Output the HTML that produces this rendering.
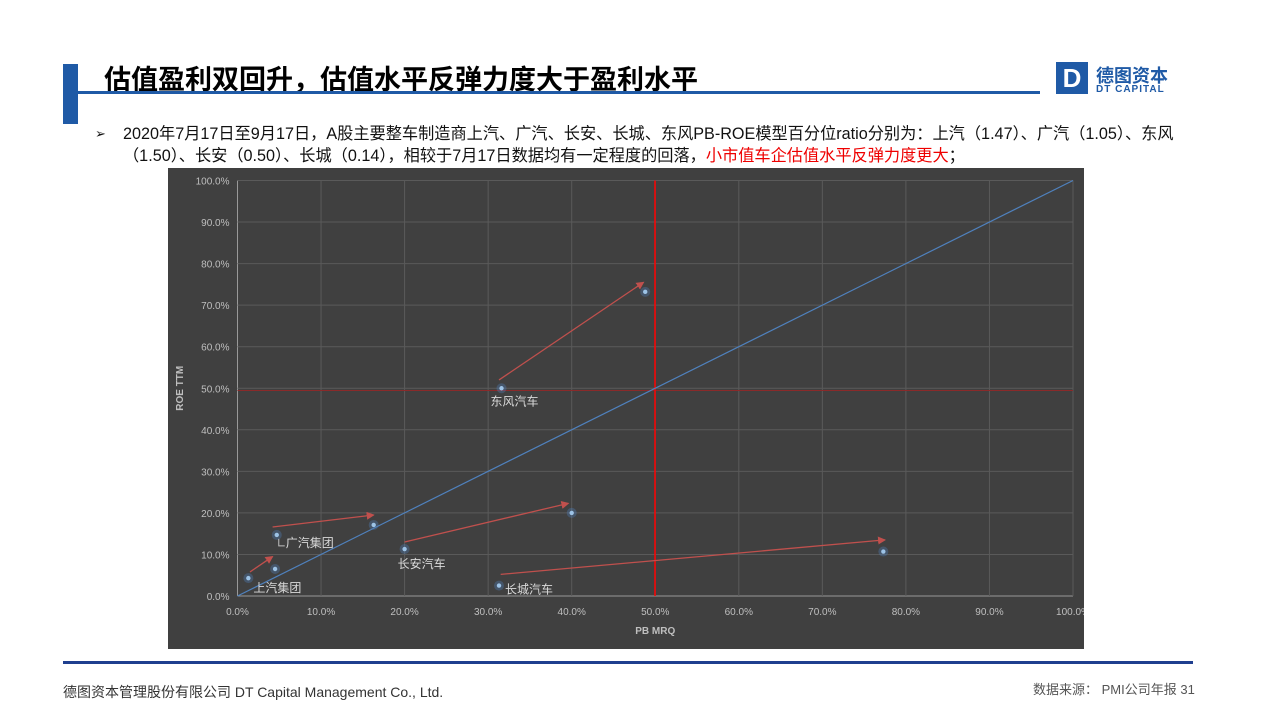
<!DOCTYPE html>
<html><head><meta charset="utf-8"><style>
body{margin:0;width:1280px;height:720px;background:#fff;position:relative;overflow:hidden;font-family:"Liberation Sans","Noto Sans CJK SC",sans-serif}
.abs{position:absolute}
</style></head><body>
<div class="abs" style="left:63px;top:64px;width:15px;height:60px;background:#1f5aa6"></div>
<div class="abs" style="left:104px;top:58px;font-size:27px;font-weight:bold;color:#000">估值盈利双回升，估值水平反弹力度大于盈利水平</div>
<div class="abs" style="left:78px;top:91px;width:962px;height:3px;background:#1f5aa6"></div>
<div class="abs" style="left:1056px;top:62px;width:32px;height:32px;background:#1f5aa6;color:#fff;font-weight:bold;font-size:26px;text-align:center;line-height:32px">D</div>
<div class="abs" style="left:1096px;top:62px;font-size:18px;font-weight:bold;color:#1f5aa6">德图资本</div>
<div class="abs" style="left:1096px;top:84px;font-size:10px;font-weight:bold;color:#1f5aa6;letter-spacing:1px">DT CAPITAL</div>
<div class="abs" style="left:95px;top:123px;width:1120px;font-size:16.2px;line-height:22px;color:#111">
<span style="position:absolute;left:0;top:0;font-size:13px">➢</span>
<div style="padding-left:28px">2020年7月17日至9月17日，A股主要整车制造商上汽、广汽、长安、长城、东风PB-ROE模型百分位ratio分别为：上汽（1.47）、广汽（1.05）、东风<br>（1.50）、长安（0.50）、长城（0.14），相较于7月17日数据均有一定程度的回落，<span style="color:#e00">小市值车企估值水平反弹力度更大</span>；</div></div>
<svg class="abs" style="left:168px;top:168px" width="916" height="481" id="chart"></svg>
<div class="abs" style="left:63px;top:661px;width:1130px;height:3px;background:#1f3f8f"></div>
<div class="abs" style="left:63px;top:682px;font-size:14px;color:#333">德图资本管理股份有限公司 DT Capital Management Co., Ltd.</div>
<div class="abs" style="left:1033px;top:679px;font-size:13px;color:#555">数据来源： PMI公司年报 31</div>
<script>
const names=["上汽集团","广汽集团","长安汽车","长城汽车","东风汽车"];
const pbStart=[1.3,4.7,20.0,31.3,31.6];
const roeStart=[4.3,14.7,11.3,2.5,50.0];
const pbEnd=[4.5,16.3,40.0,77.3,48.8];
const roeEnd=[6.5,17.1,20.0,10.7,73.2];
const arrowX0=[1.5,4.2,20.0,31.5,31.3];
const arrowY0=[5.8,16.6,13.0,5.2,52.0];
const arrowX1=[4.2,16.3,39.6,77.5,48.6];
const arrowY1=[9.5,19.5,22.3,13.5,75.5];
const ticks=[0,10,20,30,40,50,60,70,80,90,100];
const svg=document.getElementById('chart');
const NS='http://www.w3.org/2000/svg';
const ox=168,oy=168;
const X=v=>237.5-ox+v*8.355, Y=v=>596-oy-v*4.155;
function mk(t,a,p){const e=document.createElementNS(NS,t);for(const k in a)e.setAttribute(k,a[k]);(p||svg).appendChild(e);return e;}
let bg=mk('rect',{x:0,y:0,width:916,height:481,fill:'#404040'});


let defs=mk('defs',{});
let mkr=mk('marker',{id:'ah',markerWidth:8,markerHeight:8,refX:7,refY:4,orient:'auto',markerUnits:'userSpaceOnUse'},defs);
mk('path',{d:'M0,0 L8,4 L0,8 z',fill:'#c0504d'},mkr);
ticks.forEach(t=>{
 let g=mk('line',{x1:X(0),x2:X(100),y1:Y(t),y2:Y(t),stroke:t==0?'#999':'#5a5a5a','stroke-width':1});
 
 
 let v=mk('line',{x1:X(t),x2:X(t),y1:Y(0),y2:Y(100),stroke:t==0?'#999':'#5a5a5a','stroke-width':1});
 
 
 let yl=mk('text',{x:X(0)-8,y:Y(t)+4,'text-anchor':'end','font-size':10,fill:'#bfbfbf'});yl.textContent=t.toFixed(1)+'%';
 
 
 let xl=mk('text',{x:X(t),y:Y(0)+19,'text-anchor':'middle','font-size':10,fill:'#bfbfbf'});xl.textContent=t.toFixed(1)+'%';
 
 
});
let xt=mk('text',{x:X(50),y:466,'text-anchor':'middle','font-size':10,'font-weight':'bold',fill:'#bfbfbf'});xt.textContent='PB MRQ';


let yt=mk('text',{x:0,y:0,transform:`translate(15,${Y(50)}) rotate(-90)`,'text-anchor':'middle','font-size':10,'font-weight':'bold',fill:'#bfbfbf'});yt.textContent='ROE TTM';


let rh=mk('line',{x1:X(0),x2:X(100),y1:Math.round(Y(49.5))+0.5,y2:Math.round(Y(49.5))+0.5,stroke:'#8a2a2a','stroke-width':1});


let rv=mk('line',{x1:Math.round(X(50)),x2:Math.round(X(50)),y1:Y(0),y2:Y(100),stroke:'#ff0000','stroke-width':1.5});


let dg=mk('line',{x1:X(0),y1:Y(0),x2:X(100),y2:Y(100),stroke:'#4f81bd','stroke-width':1.2});


names.forEach((n,i)=>{
 let a=mk('line',{x1:X(arrowX0[i]),y1:Y(arrowY0[i]),x2:X(arrowX1[i]),y2:Y(arrowY1[i]),stroke:'#c0504d','stroke-width':1.3,'marker-end':'url(#ah)'});
 
 
 [[pbStart[i],roeStart[i]],[pbEnd[i],roeEnd[i]]].forEach(p=>{
  mk('circle',{cx:X(p[0]),cy:Y(p[1]),r:5,fill:'#4f81bd',opacity:0.35});
  let c=mk('circle',{cx:X(p[0]),cy:Y(p[1]),r:2.2,fill:'#9dc3e6'});
  
  
 });
});
const lbl=[[X(pbStart[0])+5,Y(roeStart[0])+14],[X(pbStart[1])+9,Y(roeStart[1])+12],[X(pbStart[2])-7,Y(roeStart[2])+19],[X(pbStart[3])+6,Y(roeStart[3])+8],[X(pbStart[4])-11,Y(roeStart[4])+17]];
names.forEach((n,i)=>{
 let t=mk('text',{x:lbl[i][0],y:lbl[i][1],'font-size':12,fill:'#d9d9d9','font-family':'"Liberation Sans","Noto Sans CJK SC",sans-serif'});t.textContent=n;
 
 
});
mk('path',{d:`M${X(pbStart[1])+2},${Y(roeStart[1])+4} v7 h6`,stroke:'#bfbfbf',fill:'none','stroke-width':1});
</script>
</body></html>
